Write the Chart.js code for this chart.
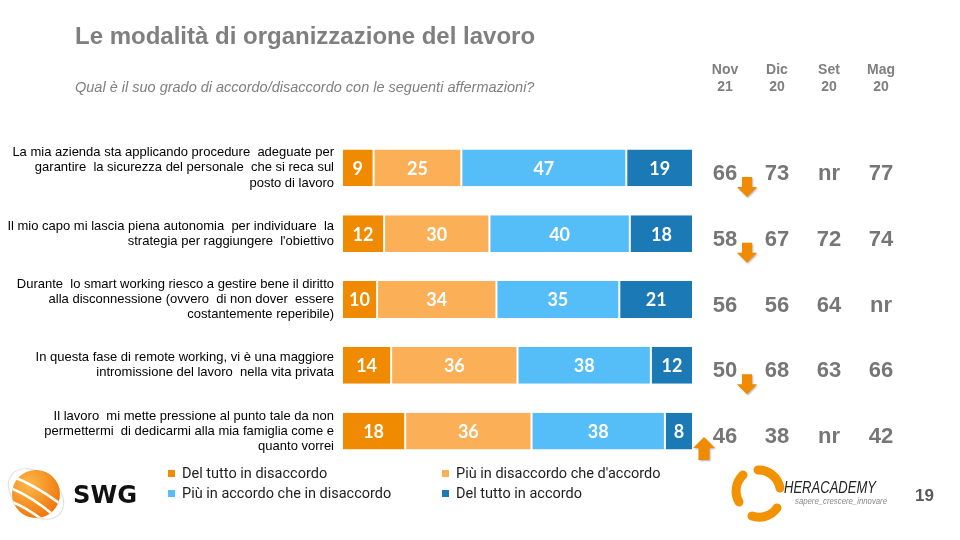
<!DOCTYPE html>
<html lang="it">
<head>
<meta charset="utf-8">
<title>Le modalità di organizzazione del lavoro</title>
<script src="https://cdn.jsdelivr.net/npm/chart.js@4.4.1/dist/chart.umd.min.js"></script>
<style>
  html, body { margin: 0; padding: 0; background: #fff; }
  #slide { position: relative; width: 960px; height: 540px; overflow: hidden; font-family: Arial, "Liberation Sans", sans-serif; }
  #chart { position: absolute; left: 0; top: 0; }
  .title { position: absolute; left: 75px; top: 22px; font-size: 24px; font-weight: bold; color: #7f7f7f; white-space: nowrap; }
  .subtitle { position: absolute; left: 75px; top: 79px; font-size: 14.5px; font-style: italic; color: #7f7f7f; white-space: nowrap; }
  .legend { position: absolute; left: 168px; top: 465px; width: 520px; font-family: Roboto, sans-serif; font-size: 14.5px; color: #222; }
  .legend .item { position: absolute; white-space: nowrap; }
  .legend .sw { display: inline-block; width: 7px; height: 7px; margin-right: 7px; vertical-align: 1px; }
  .page { position: absolute; left: 915px; top: 486px; font-size: 17px; font-weight: bold; color: #595959; }
  svg { position: absolute; }
</style>
</head>
<body>
<div id="slide">
  <canvas id="chart" width="960" height="540"></canvas>
  <div class="title">Le modalità di organizzazione del lavoro</div>
  <div class="subtitle">Qual è il suo grado di accordo/disaccordo con le seguenti affermazioni?</div>
  <div class="legend" id="legend"></div>

  <!-- SWG logo -->
  <svg width="160" height="80" style="left:0;top:455px">
    <defs>
      <radialGradient id="sphere" cx="0.35" cy="0.3" r="0.75">
        <stop offset="0" stop-color="#FDB84A"/>
        <stop offset="1" stop-color="#EE760A"/>
      </radialGradient>
      <clipPath id="ball"><circle cx="36" cy="39" r="24"/></clipPath>
    </defs>
    <ellipse cx="36" cy="39" rx="31" ry="21" transform="rotate(38 36 39)" fill="none" stroke="#e2e2e2" stroke-width="1.2"/>
    <circle cx="36" cy="39" r="24" fill="url(#sphere)"/>
    <g clip-path="url(#ball)" stroke="#fff" stroke-width="2.6" fill="none">
      <path d="M8 20 Q32 28 62 50"/>
      <path d="M8 32 Q30 40 56 62"/>
      <path d="M10 46 Q26 52 44 66"/>
    </g>
    <text x="73" y="48" font-family="DejaVu Sans" font-weight="bold" font-size="25" fill="#111" textLength="64" lengthAdjust="spacingAndGlyphs">SWG</text>
  </svg>

  <!-- Heracademy logo -->
  <svg width="170" height="80" style="left:730px;top:458px">
    <g fill="none" stroke="#F39200" stroke-width="9" stroke-linecap="round">
      <path d="M28 12 A22 22 0 0 1 50 30"/>
      <path d="M47 50 A22 22 0 0 1 22 58"/>
      <path d="M9 44 A22 22 0 0 1 13 17"/>
    </g>
    <text x="54" y="35" font-family="Arial" font-style="italic" font-size="17" fill="#222" textLength="92" lengthAdjust="spacingAndGlyphs">HERACADEMY</text>
    <text x="65" y="46" font-family="Arial" font-style="italic" font-size="9.5" fill="#888" textLength="92" lengthAdjust="spacingAndGlyphs">sapere_crescere_innovare</text>
  </svg>

  <div class="page">19</div>
</div>

<script>
// ── data ──────────────────────────────────────────────────────────────────

const statements = [
  ["La mia azienda sta applicando procedure  adeguate per", "garantire  la sicurezza del personale  che si reca sul", "posto di lavoro"],
  ["Il mio capo mi lascia piena autonomia  per individuare  la", "strategia per raggiungere  l'obiettivo"],
  ["Durante  lo smart working riesco a gestire bene il diritto", "alla disconnessione (ovvero  di non dover  essere", "costantemente reperibile)"],
  ["In questa fase di remote working, vi è una maggiore", "intromissione del lavoro  nella vita privata"],
  ["Il lavoro  mi mette pressione al punto tale da non", "permettermi  di dedicarmi alla mia famiglia come e", "quanto vorrei"],
];

const seriesNames = [
  "Del tutto in disaccordo",
  "Più in disaccordo che d'accordo",
  "Più in accordo che in disaccordo",
  "Del tutto in accordo",
];
const seriesColors = ["#F08A00", "#FBB058", "#55BEF9", "#1B79B6"];

const delTuttoDisaccordo = [9, 12, 10, 14, 18];
const piuDisaccordo = [25, 30, 34, 36, 36];
const piuAccordo = [47, 40, 35, 38, 38];
const delTuttoAccordo = [19, 18, 21, 12, 8];

// trend columns on the right
const waveLabels = [["Nov", "21"], ["Dic", "20"], ["Set", "20"], ["Mag", "20"]];
const nov21 = [66, 58, 56, 50, 46];
const dic20 = [73, 67, 56, 68, 38];
const set20 = ["nr", 72, 64, 63, "nr"];
const mag20 = [77, 74, "nr", 66, 42];
const trend = ["down", "down", null, "down", "up"];

// ── legend (html) ─────────────────────────────────────────────────────────

const legendEl = document.getElementById("legend");
const legendPos = [[0, 0], [274, 0], [0, 20], [274, 20]];
seriesNames.forEach((name, i) => {
  const it = document.createElement("div");
  it.className = "item";
  it.style.left = legendPos[i][0] + "px";
  it.style.top = legendPos[i][1] + "px";
  it.innerHTML = `<span class="sw" style="background:${seriesColors[i]}"></span>${name}`;
  legendEl.appendChild(it);
});

// ── plugins ───────────────────────────────────────────────────────────────

const segmentLabels = {
  id: "segmentLabels",
  afterDatasetsDraw(chart) {
    const ctx = chart.ctx;
    ctx.save();
    ctx.fillStyle = "#fff";
    ctx.font = "bold 18px Lato, 'Open Sans', sans-serif";
    ctx.textAlign = "center";
    ctx.textBaseline = "middle";
    chart.data.datasets.forEach((ds, di) => {
      chart.getDatasetMeta(di).data.forEach((el, i) => {
        const p = el.getCenterPoint();
        ctx.fillText(ds.data[i], p.x, p.y + 1);
      });
    });
    ctx.restore();
  },
};

function drawArrow(ctx, cx, top, dir) {
  ctx.beginPath();
  if (dir === "down") {
    ctx.moveTo(cx - 5, top);
    ctx.lineTo(cx + 5, top);
    ctx.lineTo(cx + 5, top + 10);
    ctx.lineTo(cx + 10, top + 10);
    ctx.lineTo(cx, top + 20);
    ctx.lineTo(cx - 10, top + 10);
    ctx.lineTo(cx - 5, top + 10);
  } else {
    ctx.moveTo(cx, top);
    ctx.lineTo(cx + 11, top + 11);
    ctx.lineTo(cx + 5.5, top + 11);
    ctx.lineTo(cx + 5.5, top + 23);
    ctx.lineTo(cx - 5.5, top + 23);
    ctx.lineTo(cx - 5.5, top + 11);
    ctx.lineTo(cx - 11, top + 11);
  }
  ctx.closePath();
  ctx.fill();
}

const trendColumns = {
  id: "trendColumns",
  afterDraw(chart) {
    const ctx = chart.ctx;
    const y = chart.scales.y;
    const colX = [725, 777, 829, 881];
    const cols = [nov21, dic20, set20, mag20];
    ctx.save();
    ctx.textAlign = "center";
    ctx.textBaseline = "middle";
    ctx.fillStyle = "#7f7f7f";
    ctx.font = "bold 14px Arial, 'Liberation Sans', sans-serif";
    waveLabels.forEach((lines, c) => {
      ctx.fillText(lines[0], colX[c], 70);
      ctx.fillText(lines[1], colX[c], 87);
    });
    ctx.fillStyle = "#767676";
    ctx.font = "bold 22px Arial, 'Liberation Sans', sans-serif";
    statements.forEach((_, i) => {
      const py = y.getPixelForValue(i) + 6;
      cols.forEach((col, c) => ctx.fillText(col[i], colX[c], py));
    });
    // arrows
    ctx.fillStyle = "#F08A00";
    ctx.shadowColor = "rgba(0,0,0,0.3)";
    ctx.shadowBlur = 2;
    ctx.shadowOffsetX = 1;
    ctx.shadowOffsetY = 1;
    trend.forEach((t, i) => {
      if (!t) return;
      const py = y.getPixelForValue(i);
      if (t === "down") drawArrow(ctx, 747, py + 9, "down");
      else drawArrow(ctx, 704, py + 6, "up");
    });
    ctx.restore();
  },
};

// ── chart ─────────────────────────────────────────────────────────────────

const seriesData = [delTuttoDisaccordo, piuDisaccordo, piuAccordo, delTuttoAccordo];

new Chart(document.getElementById("chart"), {
  type: "bar",
  data: {
    labels: statements,
    datasets: seriesData.map((data, i) => ({
      label: seriesNames[i],
      data,
      backgroundColor: seriesColors[i],
      borderColor: "#fff",
      borderWidth: { left: 1, right: 1, top: 0, bottom: 0 },
      borderSkipped: false,
      barPercentage: 0.56,
      categoryPercentage: 1,
    })),
  },
  options: {
    indexAxis: "y",
    responsive: false,
    animation: false,
    layout: { padding: { left: 0, right: 267, top: 135, bottom: 76 } },
    plugins: { legend: { display: false }, tooltip: { enabled: false } },
    scales: {
      x: { stacked: true, min: 0, max: 100, display: false },
      y: {
        stacked: true,
        border: { display: false },
        grid: { display: false, drawTicks: false, tickLength: 0 },
        ticks: {
          padding: 8,
          color: "#000",
          font: { family: "Arial, 'Liberation Sans', sans-serif", size: 13, lineHeight: 1.16 },
        },
        afterFit(scale) { scale.width = 342; },
      },
    },
  },
  plugins: [segmentLabels, trendColumns],
});
</script>
</body>
</html>
